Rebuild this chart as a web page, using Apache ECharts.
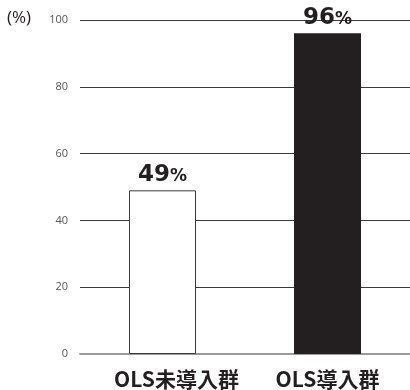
<!DOCTYPE html>
<html>
<head>
<meta charset="utf-8">
<script src="https://cdn.jsdelivr.net/npm/echarts@6/dist/echarts.min.js"></script>
<style>
  html, body { margin: 0; padding: 0; background: #fff; }
  #chart { width: 410px; height: 390px; }
</style>
</head>
<body>
<div id="chart"></div>
<script>
// Share of each group (percent)
const categories = ['OLS未導入群', 'OLS導入群'];
const values = [49, 96];
const barColors = ['#ffffff', '#231f20'];
const yTicks = [0, 20, 40, 60, 80, 100];

const chart = echarts.init(document.getElementById('chart'), null, { renderer: 'canvas' });

chart.setOption({
  animation: false,
  grid: { left: 80, right: 0, top: 20, bottom: 36, containLabel: false },
  graphic: [{
    type: 'text',
    left: 7,
    top: 10,
    style: { text: '(%)', fontSize: 17, fill: '#231f20', fontFamily: 'Open Sans, sans-serif' }
  }],
  xAxis: {
    type: 'category',
    data: categories.map((c, i) => ({
      value: c,
      // first label sits a little right of its bar
      textStyle: { padding: i === 0 ? [0, 0, 0, 28] : [0, 0, 0, 0] }
    })),
    axisTick: { show: false },
    axisLine: { show: true, lineStyle: { color: '#9a9a9a', width: 2 } },
    axisLabel: {
      margin: 15,
      fontSize: 21,
      fontWeight: 'bold',
      color: '#231f20',
      fontFamily: 'Noto Sans CJK JP, sans-serif'
    }
  },
  yAxis: {
    type: 'value',
    min: yTicks[0],
    max: yTicks[yTicks.length - 1],
    interval: 20,
    axisLine: { show: false },
    axisTick: { show: false },
    axisLabel: {
      margin: 12,
      fontSize: 11,
      color: '#555555',
      fontFamily: 'Open Sans, sans-serif'
    },
    splitLine: { lineStyle: { color: '#3a3a3a', width: 1 } }
  },
  series: [{
    type: 'bar',
    barWidth: 67,
    data: values.map((v, i) => ({
      value: v,
      itemStyle: {
        color: barColors[i],
        borderColor: '#3a3a3a',
        borderWidth: i === 0 ? 1 : 0
      }
    })),
    label: {
      show: true,
      position: 'top',
      distance: 4,
      formatter: p => '{n|' + p.value + '}{p|%}',
      rich: {
        n: { fontSize: 23, fontWeight: 900, color: '#231f20', fontFamily: 'DejaVu Sans, sans-serif' },
        p: { fontSize: 17, fontWeight: 'bold', color: '#231f20', fontFamily: 'DejaVu Sans, sans-serif', padding: [3, 0, 0, 0] }
      }
    }
  }]
});
</script>
</body>
</html>
